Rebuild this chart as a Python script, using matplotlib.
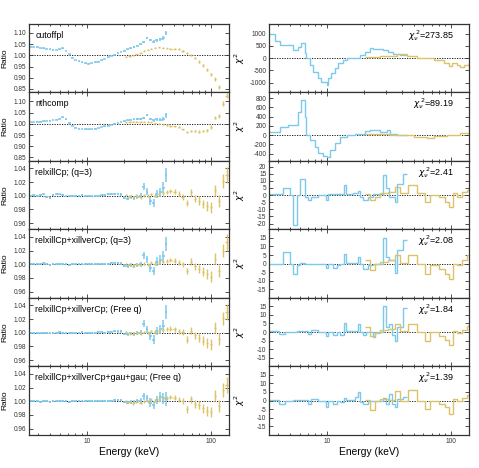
import numpy as np
import matplotlib
matplotlib.use("Agg")
import matplotlib.pyplot as plt
from matplotlib.ticker import FixedLocator, NullFormatter

plt.rcParams['font.family'] = ['Liberation Sans', 'DejaVu Sans']
plt.rcParams['axes.unicode_minus'] = False

BLUE = '#7cc9ee'
GOLD = '#dcc26a'

# --- data -----------------------------------------------------------------
model_names = ["cutoffpl", "nthcomp", "relxillCp; (q=3)",
               "relxillCp+xillverCp; (q=3)", "relxillCp+xillverCp; (Free q)",
               "relxillCp+xillverCp+gau+gau; (Free q)"]
chi_red = ["273.85", "89.19", "2.41", "2.08", "1.84", "1.39"]

# ratio panels: energies (keV) of the binned points
blue_energy = [3.5, 3.7, 3.95, 4.2, 4.45, 4.7, 5.0, 5.3, 5.65, 6.0, 6.35, 6.75,
               7.15, 7.6, 8.1, 8.6, 9.1, 9.7, 10.3, 10.9, 11.6, 12.3, 13.1,
               13.9, 14.8, 15.7, 16.7, 17.7, 18.8, 20.0, 21.2, 22.5, 23.9,
               25.4, 27.0, 28.7, 30.5, 32.4, 34.4, 36.6, 38.9, 41.3, 43.5]
blue_err = [0.0012, 0.0012, 0.0012, 0.0012, 0.0012, 0.0012, 0.0012, 0.0012,
            0.0012, 0.0012, 0.0012, 0.0012, 0.0012, 0.0012, 0.0012, 0.0012,
            0.0012, 0.0012, 0.0012, 0.0013, 0.0013, 0.0013, 0.0014, 0.0014,
            0.0015, 0.0015, 0.0016, 0.0017, 0.0018, 0.002, 0.0022, 0.0025,
            0.0028, 0.003, 0.0035, 0.005, 0.005, 0.006, 0.006, 0.006, 0.007,
            0.008, 0.010]
gold_energy = [20.5, 22, 23.5, 25, 27, 29, 31, 33, 35.5, 38, 41, 44, 47, 51,
               55, 59, 64, 69, 74, 80, 86, 93, 100, 108, 116, 125, 134]
gold_err = [0.0018, 0.0018, 0.0019, 0.002, 0.002, 0.0021, 0.0022, 0.0023,
            0.0024, 0.0025, 0.0027, 0.003, 0.0032, 0.0035, 0.0038, 0.004,
            0.0045, 0.005, 0.0055, 0.006, 0.0065, 0.007, 0.0075, 0.008,
            0.009, 0.010, 0.012]

ratio_blue_cutoffpl = [1.039, 1.037, 1.035, 1.033, 1.031, 1.029, 1.027, 1.025,
                       1.024, 1.027, 1.031, 1.020, 1.005, 0.990, 0.980, 0.973,
                       0.968, 0.964, 0.963, 0.965, 0.968, 0.972, 0.978, 0.984,
                       0.991, 0.997, 1.003, 1.009, 1.015, 1.020, 1.026, 1.031,
                       1.037, 1.043, 1.050, 1.060, 1.077, 1.068, 1.060, 1.066,
                       1.072, 1.078, 1.100]
ratio_gold_cutoffpl = [0.993, 0.996, 1.000, 1.005, 1.011, 1.020, 1.025, 1.029,
                       1.033, 1.036, 1.034, 1.031, 1.030, 1.030, 1.027, 1.020,
                       1.010, 1.000, 0.988, 0.972, 0.955, 0.935, 0.915, 0.895,
                       0.860, 0.820, 0.780]
ratio_blue_nthcomp = [1.007, 1.008, 1.009, 1.010, 1.011, 1.013, 1.014, 1.016,
                      1.018, 1.023, 1.029, 1.020, 1.005, 0.990, 0.983, 0.979,
                      0.976, 0.975, 0.975, 0.977, 0.979, 0.982, 0.985, 0.988,
                      0.992, 0.996, 1.000, 1.004, 1.008, 1.012, 1.015, 1.018,
                      1.020, 1.021, 1.022, 1.026, 1.040, 1.022, 1.015, 1.020,
                      1.018, 1.022, 1.038]
ratio_gold_nthcomp = [1.007, 1.009, 1.010, 1.010, 1.010, 1.009, 1.008, 1.006,
                      1.003, 1.000, 0.997, 0.994, 0.991, 0.988, 0.985, 0.975,
                      0.962, 0.967, 0.968, 0.965, 0.968, 0.972, 0.985, 1.028,
                      1.035, 1.090, 1.125]
ratio_blue_relx = [1.000, 1.001, 1.000, 1.001, 1.002, 0.998, 0.997, 1.001, 1.003,
                   1.002, 1.001, 0.999, 0.999, 1.000, 1.000, 1.000, 1.001, 1.000,
                   1.000, 0.999, 1.000, 1.000, 1.001, 1.001, 1.002, 1.002, 1.002,
                   1.003, 1.002, 0.997, 0.996, 0.998, 0.997, 0.998, 1.000, 1.013,
                   1.006, 0.992, 0.990, 1.003, 1.005, 1.012, 1.030]
ratio_gold_relx = [1.001, 0.999, 0.998, 1.000, 0.998, 1.001, 1.000, 1.002, 1.000,
                   1.003, 1.004, 1.005, 1.007, 1.006, 1.003, 0.998, 0.990, 1.005,
                   0.996, 0.993, 0.988, 0.985, 0.983, 1.008, 0.992, 1.022, 1.030]
ratio_blue_relx_xill = [1.000, 1.000, 1.001, 1.001, 1.002, 1.001, 0.999, 1.000,
                        1.001, 1.000, 1.000, 1.000, 0.999, 1.000, 1.000, 1.001,
                        1.000, 1.000, 1.000, 1.000, 1.000, 1.001, 1.001, 1.001,
                        1.001, 1.002, 1.002, 1.002, 1.001, 0.998, 0.997, 0.999,
                        0.998, 0.999, 1.000, 1.013, 1.007, 0.994, 0.990, 1.004,
                        1.006, 1.012, 1.030]
ratio_gold_relx_xill = [1.000, 0.999, 0.998, 1.000, 0.999, 1.001, 1.000, 1.002,
                        1.001, 1.003, 1.004, 1.005, 1.006, 1.005, 1.002, 1.000,
                        0.990, 1.004, 0.997, 0.993, 0.989, 0.986, 0.982, 1.008,
                        0.990, 1.020, 1.032]
ratio_blue_freeq = [1.000, 1.000, 1.000, 0.999, 1.000, 1.000, 0.999, 1.000, 1.000,
                    1.001, 1.000, 1.000, 0.999, 1.000, 1.000, 1.000, 1.001, 1.000,
                    1.000, 1.000, 1.000, 1.001, 1.001, 1.000, 1.001, 1.001, 1.002,
                    1.002, 1.002, 0.998, 0.998, 0.999, 0.998, 0.999, 1.000, 1.013,
                    1.005, 0.995, 0.990, 1.003, 1.005, 1.010, 1.030]
ratio_gold_freeq = [1.001, 0.999, 0.998, 1.000, 0.999, 1.001, 1.000, 1.002, 1.001,
                    1.003, 1.004, 1.006, 1.006, 1.005, 1.002, 1.001, 0.990, 1.003,
                    0.996, 0.993, 0.988, 0.985, 0.983, 1.007, 0.991, 1.021, 1.030]
ratio_blue_gau = [1.000, 1.000, 1.000, 0.999, 1.000, 1.000, 0.999, 1.000, 1.000,
                  1.001, 1.000, 1.000, 0.999, 1.000, 1.000, 1.000, 1.001, 1.000,
                  1.000, 1.000, 1.000, 1.001, 1.001, 1.000, 1.001, 1.001, 1.002,
                  1.002, 1.002, 0.999, 0.998, 0.999, 0.999, 1.000, 1.001, 1.007,
                  1.004, 0.998, 0.995, 1.002, 1.006, 1.004, 1.003]
ratio_gold_gau = [1.000, 0.999, 0.997, 0.999, 0.998, 1.000, 1.000, 1.002, 1.001,
                  1.003, 1.004, 1.005, 1.006, 1.005, 1.002, 1.000, 0.988, 1.003,
                  0.996, 0.994, 0.990, 0.986, 0.984, 1.008, 0.993, 1.016, 1.024]

# chi^2 panels: bin edges (keV) and signed contributions
chi_blue_edges_cutoffpl = [3.39, 3.77, 4.13, 5.30, 5.82, 6.20, 6.59, 6.80, 7.24,
                           7.70, 8.46, 9.00, 9.88, 10.2, 10.8, 11.5, 12.3, 13.5,
                           14.4, 18.4, 20.2, 22.2, 23.6, 28.5, 31.3, 34.3, 38.9,
                           44.0]
chi_blue_cutoffpl = [1000, 680, 520, 333, 450, 600, 200, 0, -270, -550, -820,
                     -960, -1100, -820, -620, -410, -200, -70, 0, 140, 270, 410,
                     370, 340, 270, 180, 140]
chi_gold_edges_cutoffpl = [20.2, 26.8, 36.5, 44.0, 53.1, 72.4, 87.3, 95.9, 102,
                           112, 119, 127, 139, 141]
chi_gold_cutoffpl = [40, 100, 170, 70, 0, -70, -200, -340, -200, -270, -370,
                     -270, -180]
chi_blue_edges_nthcomp = [3.39, 4.13, 4.83, 5.82, 6.12, 6.59, 6.80, 7.24, 7.95,
                          8.46, 9.29, 10.0, 10.5, 11.5, 12.7, 14.4, 16.8, 20.2,
                          22.2, 26.8, 30.3, 32.2, 36.5, 44.0]
chi_blue_nthcomp = [70, 180, 215, 500, 765, 390, 0, -110, -250, -390, -460, -470,
                    -320, -180, -40, 0, 35, 95, 110, 70, 110, 35, 5]
chi_gold_edges_nthcomp = [20.2, 32.2, 49.9, 64.0, 72.4, 92.9, 119, 141]
chi_gold_nthcomp = [15, 0, -40, -70, -20, 10, 50]

chi_blue_edges = [3.39, 4.08, 4.40, 4.54, 4.98, 5.30, 5.71, 6.01, 6.59, 7.02,
                  7.47, 8.46, 9.76, 10.2, 11.2, 11.9, 12.7, 13.7, 14.2, 16.3,
                  16.8, 17.9, 18.4, 19.6, 20.6, 21.5, 23.6, 24.4, 28.5, 29.7,
                  31.6, 33.3, 35.4, 37.0, 41.4, 44.0]
chi_gold_edges = [20.2, 22.2, 24.4, 26.8, 31.3, 35.4, 38.9, 45.4, 53.1, 62.0,
                  68.1, 79.5, 90.1, 95.9, 103.3, 112.0, 123.0, 134.9, 141]
chi_blue_relx = [0.7, 0.7, 4.7, 4.7, 0, -21, 0, 11, -1, -3.5, -1.6, 0, -3.5, 0.5,
                 0.5, 0.5, 0.5, 7, 0.5, 1.6, 1.6, 3, -1, -3.5, -3.5, -1, 0.5, 0.5,
                 14, 5, -1, -1, -4.7, 8, 15]
chi_gold_relx = [0.7, -3.5, -1, 1.2, 2.4, 5.4, 1.2, 7, 1.2, -4.7, 0, -1.2, -4.7,
                 -8.2, 1.2, -1.2, 2, 3.5]
chi_blue_relx_xill = [-0.4, -0.4, 7, 7, 0, -6, -1, 0.4, 0, 0, 0, 0, -2.5, 0, -2.5,
                      -1, 0, 5.7, 0.4, 0.4, 0.4, 4, 0, -3, -3, -1, 0, 0, 15, 4, 2,
                      2, -5.5, 8, 14]
chi_gold_relx_xill = [2, -4, -0.4, 1, 2, 5, 0.4, 5, 0, -6, -1, -3, -6, -9, 0, -1,
                      2, 5]
chi_blue_freeq = [0.7, -1.3, -1.3, 0, 0, 0, 0.7, 0.7, 0.7, -1.3, 1.2, 0, -2.4, 0,
                  -2, 0, -1.5, 5, 0.4, 0.4, 0.4, 4.6, 0, -2, 0, 0, -2.7, 0, 15, 3,
                  4.6, -1.5, -5, 3, 14]
chi_gold_freeq = [2.7, -2.4, -0.5, 1.3, 1.6, 4.6, 0.4, 4.6, 0, -5, 0, -2.4, -4.6,
                  -7.3, 0.9, -0.5, 1.3, 3.6]
chi_blue_gau = [0.3, -1.9, -1.9, 0, 0, 0.5, 0.5, 0.5, 0.5, -1.9, 0.8, 0, -3.8, 0,
                -1.9, 0, -1, 1.5, 0.4, 0.4, 1.9, 4.7, -1, -2.3, -2.3, 0, 0, 0, 1.3,
                -1.9, 3.8, -1.9, -4, 1, 1.9]
chi_gold_gau = [0.4, -5.6, 0, 0.9, 0.4, 5.3, 0, 6, 0, -4.7, 0, -1.9, -3.8, -7.9,
                0.9, -0.4, 1.5, 3.2]

ratio_blue = [ratio_blue_cutoffpl, ratio_blue_nthcomp, ratio_blue_relx,
              ratio_blue_relx_xill, ratio_blue_freeq, ratio_blue_gau]
ratio_gold = [ratio_gold_cutoffpl, ratio_gold_nthcomp, ratio_gold_relx,
              ratio_gold_relx_xill, ratio_gold_freeq, ratio_gold_gau]
chi_blue = [(chi_blue_edges_cutoffpl, chi_blue_cutoffpl),
            (chi_blue_edges_nthcomp, chi_blue_nthcomp),
            (chi_blue_edges, chi_blue_relx), (chi_blue_edges, chi_blue_relx_xill),
            (chi_blue_edges, chi_blue_freeq), (chi_blue_edges, chi_blue_gau)]
chi_gold = [(chi_gold_edges_cutoffpl, chi_gold_cutoffpl),
            (chi_gold_edges_nthcomp, chi_gold_nthcomp),
            (chi_gold_edges, chi_gold_relx), (chi_gold_edges, chi_gold_relx_xill),
            (chi_gold_edges, chi_gold_freeq), (chi_gold_edges, chi_gold_gau)]

ratio_lims = [(0.835, 1.14), (0.835, 1.14)] + [(0.951, 1.051)] * 4
ratio_ticks = [[0.85, 0.90, 0.95, 1.00, 1.05, 1.10]] * 2 + \
              [[0.96, 0.98, 1.00, 1.02, 1.04]] * 4
chi_lims = [(-1400, 1400), (-555, 925), (-24, 24), (-20, 20), (-20, 20), (-20, 20)]
chi_ticks = [[-1000, -500, 0, 500, 1000], [-400, -200, 0, 200, 400, 600, 800],
             list(range(-20, 21, 5))] + [list(range(-15, 16, 5))] * 3


def half_widths(energies, frac=0.85):
    le = np.log10(energies)
    d = np.gradient(le) / 2 * frac
    e = np.asarray(energies)
    return np.vstack([e - 10 ** (le - d), 10 ** (le + d) - e])


blue_xerr = half_widths(blue_energy)
gold_xerr = half_widths(gold_energy, 0.6)


def style(ax, bottom):
    ax.set_xscale('log')
    ax.set_xlim(3.4, 140)
    ax.xaxis.set_major_locator(FixedLocator([10, 100]))
    ax.xaxis.set_minor_locator(FixedLocator(
        [v * 10 ** k for k in range(0, 3) for v in range(2, 10)]))
    ax.xaxis.set_minor_formatter(NullFormatter())
    if bottom:
        ax.set_xticklabels(['10', '100'])
        ax.set_xlabel('Energy (keV)', fontsize=7.4, labelpad=2)
    else:
        ax.set_xticklabels([])
    ax.tick_params(which='both', direction='in', top=True, right=True,
                   labelsize=4.7, width=0.6, pad=2, colors='#333333')
    ax.tick_params(which='major', length=2.6)
    ax.tick_params(which='minor', length=1.5)
    for sp in ax.spines.values():
        sp.set_color('#333333')
        sp.set_linewidth(0.9)


fig = plt.figure(figsize=(4.79, 4.68), dpi=100)
gl = fig.add_gridspec(6, 1, left=0.061, right=0.478, top=0.949, bottom=0.071,
                      hspace=0)
gr = fig.add_gridspec(6, 1, left=0.562, right=0.979, top=0.949, bottom=0.071,
                      hspace=0)

for i in range(6):
    bottom = i == 5
    axl = fig.add_subplot(gl[i])
    axl.axhline(1.0, color='black', ls=(0, (1.5, 1.5)), lw=0.6, zorder=1)
    axl.errorbar(blue_energy, ratio_blue[i], xerr=blue_xerr, yerr=blue_err,
                 fmt='none', ecolor=BLUE, elinewidth=1.1, zorder=2)
    axl.errorbar(gold_energy, ratio_gold[i], xerr=gold_xerr, yerr=gold_err,
                 fmt='none', ecolor=GOLD, elinewidth=1.0, zorder=2)
    axl.set_ylim(*ratio_lims[i])
    axl.set_yticks(ratio_ticks[i])
    axl.set_yticklabels(['%.2f' % t for t in ratio_ticks[i]])
    axl.text(0.03, 0.83, model_names[i], transform=axl.transAxes, fontsize=6.3,
             va='center', ha='left')
    axl.set_ylabel('Ratio', fontsize=6)
    axl.yaxis.set_label_coords(-0.105, 0.5)
    style(axl, bottom)

    axr = fig.add_subplot(gr[i])
    axr.axhline(0.0, color='black', ls=(0, (1.5, 1.5)), lw=0.6, zorder=1)
    edges, vals = chi_blue[i]
    axr.stairs(vals, edges, baseline=None, color=BLUE, lw=1.0, zorder=2)
    edges, vals = chi_gold[i]
    axr.stairs(vals, edges, baseline=None, color=GOLD, lw=1.0, zorder=2)
    axr.set_ylim(*chi_lims[i])
    axr.set_yticks(chi_ticks[i])
    axr.text(0.925, 0.83, r'$\chi_\nu^{\,2}$=' + chi_red[i], transform=axr.transAxes,
             fontsize=6.5, va='center', ha='right')
    axr.set_ylabel(r'$\chi^2$', fontsize=6.5)
    axr.yaxis.set_label_coords(-0.11, 0.5)
    style(axr, bottom)

fig.savefig('out.png', dpi=100)
